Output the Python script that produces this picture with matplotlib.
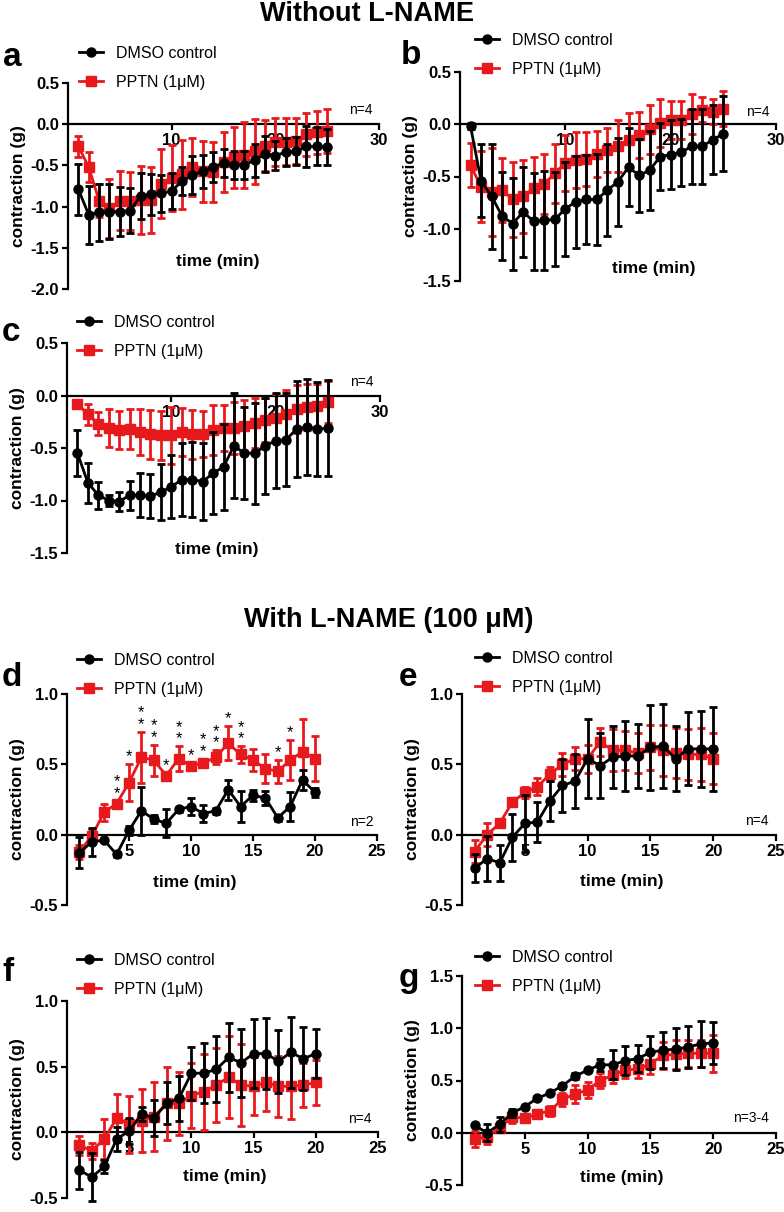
import matplotlib
matplotlib.use("Agg")
import matplotlib.pyplot as plt

# figure size in pixels (dpi 100)
W, H = 784, 1212

plt.rcParams["font.family"] = ["Liberation Sans", "DejaVu Sans"]

# ---------------- data ----------------
t25 = list(range(1, 26))
t20 = list(range(1, 21))

# panel a
dmso_a = [-0.79, -1.10, -1.07, -1.06, -1.06, -1.05, -0.87, -0.85, -0.84, -0.81, -0.69, -0.62, -0.57,
          -0.52, -0.47, -0.49, -0.49, -0.44, -0.36, -0.38, -0.34, -0.33, -0.27, -0.27, -0.28]
dmso_a_err = [0.31, 0.35, 0.35, 0.33, 0.30, 0.27, 0.28, 0.25, 0.22, 0.22, 0.17, 0.23, 0.20,
              0.18, 0.17, 0.17, 0.17, 0.20, 0.22, 0.18, 0.17, 0.17, 0.25, 0.23, 0.22]
pptn_a = [-0.27, -0.52, -0.93, -1.02, -0.93, -0.93, -0.92, -0.92, -0.72, -0.65, -0.61, -0.52, -0.57,
          -0.58, -0.46, -0.40, -0.37, -0.33, -0.26, -0.22, -0.21, -0.20, -0.12, -0.10, -0.08]
pptn_a_err = [0.13, 0.18, 0.20, 0.36, 0.36, 0.35, 0.41, 0.40, 0.42, 0.40, 0.42, 0.35, 0.37,
              0.36, 0.36, 0.37, 0.40, 0.39, 0.31, 0.29, 0.28, 0.28, 0.26, 0.26, 0.27]

# panel b
dmso_b = [-0.02, -0.54, -0.69, -0.88, -0.95, -0.84, -0.93, -0.92, -0.91, -0.81, -0.74, -0.72, -0.72,
          -0.63, -0.55, -0.41, -0.49, -0.44, -0.31, -0.29, -0.27, -0.21, -0.21, -0.15, -0.09]
dmso_b_err = [0.03, 0.35, 0.50, 0.42, 0.44, 0.43, 0.46, 0.47, 0.45, 0.45, 0.44, 0.43, 0.44,
              0.44, 0.42, 0.37, 0.35, 0.38, 0.32, 0.33, 0.32, 0.36, 0.36, 0.33, 0.36]
pptn_b = [-0.39, -0.60, -0.65, -0.63, -0.72, -0.69, -0.61, -0.57, -0.47, -0.37, -0.34, -0.33, -0.28,
          -0.25, -0.21, -0.15, -0.10, -0.05, 0.01, 0.04, 0.04, 0.10, 0.14, 0.12, 0.15]
pptn_b_err = [0.21, 0.34, 0.42, 0.31, 0.36, 0.35, 0.30, 0.29, 0.28, 0.27, 0.27, 0.26, 0.22,
              0.21, 0.25, 0.26, 0.22, 0.23, 0.23, 0.18, 0.18, 0.19, 0.12, 0.12, 0.17]

# panel c
dmso_c = [-0.55, -0.83, -0.95, -1.00, -1.01, -0.95, -0.95, -0.96, -0.92, -0.87, -0.80, -0.80, -0.82,
          -0.74, -0.68, -0.48, -0.55, -0.55, -0.48, -0.43, -0.42, -0.32, -0.30, -0.32, -0.31]
dmso_c_err = [0.22, 0.19, 0.13, 0.05, 0.09, 0.14, 0.21, 0.21, 0.27, 0.30, 0.35, 0.36, 0.37,
              0.39, 0.41, 0.50, 0.44, 0.48, 0.46, 0.45, 0.44, 0.46, 0.46, 0.45, 0.46]
pptn_c = [-0.08, -0.18, -0.27, -0.31, -0.33, -0.32, -0.35, -0.37, -0.38, -0.38, -0.35, -0.37, -0.37,
          -0.33, -0.31, -0.31, -0.29, -0.26, -0.23, -0.21, -0.18, -0.13, -0.11, -0.10, -0.06]
pptn_c_err = [0.04, 0.10, 0.11, 0.18, 0.18, 0.19, 0.22, 0.23, 0.23, 0.27, 0.23, 0.23, 0.22,
              0.24, 0.22, 0.25, 0.25, 0.24, 0.21, 0.22, 0.23, 0.23, 0.22, 0.21, 0.20]

# panel d
dmso_d = [-0.13, -0.05, -0.04, -0.14, 0.03, 0.17, 0.11, 0.08, 0.18, 0.20, 0.15, 0.17, 0.32,
          0.20, 0.28, 0.26, 0.12, 0.20, 0.39, 0.30]
dmso_d_err = [0.11, 0.10, 0.0, 0.02, 0.03, 0.17, 0.03, 0.10, 0.02, 0.06, 0.06, 0.02, 0.07,
              0.11, 0.04, 0.05, 0.02, 0.10, 0.07, 0.03]
pptn_d = [-0.12, -0.01, 0.16, 0.22, 0.37, 0.55, 0.53, 0.42, 0.54, 0.49, 0.51, 0.55, 0.65,
          0.57, 0.53, 0.47, 0.45, 0.53, 0.59, 0.54]
pptn_d_err = [0.05, 0.05, 0.06, 0.02, 0.13, 0.18, 0.11, 0.02, 0.09, 0.02, 0.03, 0.05, 0.12,
              0.06, 0.08, 0.10, 0.08, 0.14, 0.23, 0.16]
star_t = [4, 5, 6, 7, 8, 9, 10, 11, 12, 13, 14, 17, 18]
star_txt = ["**", "*", "**", "**", "*", "**", "*", "**", "**", "*", "**", "*", "*"]

# panel e
dmso_e = [-0.24, -0.17, -0.20, -0.02, 0.08, 0.09, 0.24, 0.35, 0.38, 0.54, 0.49, 0.55, 0.56,
          0.56, 0.62, 0.63, 0.54, 0.61, 0.61, 0.61]
dmso_e_err = [0.10, 0.16, 0.13, 0.17, 0.20, 0.14, 0.14, 0.19, 0.19, 0.28, 0.23, 0.22, 0.25,
              0.23, 0.30, 0.30, 0.23, 0.26, 0.27, 0.30]
pptn_e = [-0.12, 0.00, 0.08, 0.23, 0.30, 0.34, 0.43, 0.50, 0.54, 0.54, 0.66, 0.60, 0.60,
          0.58, 0.62, 0.60, 0.58, 0.57, 0.57, 0.54]
pptn_e_err = [0.08, 0.08, 0.02, 0.02, 0.04, 0.06, 0.05, 0.08, 0.08, 0.10, 0.10, 0.15, 0.14,
              0.14, 0.16, 0.18, 0.18, 0.18, 0.19, 0.18]

# panel f
dmso_f = [-0.29, -0.34, -0.26, -0.05, 0.01, 0.14, 0.11, 0.22, 0.26, 0.45, 0.45, 0.48, 0.57,
          0.53, 0.60, 0.60, 0.54, 0.61, 0.56, 0.60]
dmso_f_err = [0.14, 0.18, 0.05, 0.09, 0.10, 0.05, 0.14, 0.16, 0.17, 0.20, 0.23, 0.25, 0.26,
              0.26, 0.26, 0.27, 0.24, 0.27, 0.24, 0.19]
pptn_f = [-0.10, -0.14, -0.05, 0.11, 0.06, 0.09, 0.12, 0.22, 0.22, 0.28, 0.31, 0.36, 0.42,
          0.36, 0.35, 0.38, 0.35, 0.35, 0.36, 0.38]
pptn_f_err = [0.07, 0.06, 0.15, 0.18, 0.22, 0.24, 0.26, 0.28, 0.24, 0.25, 0.29, 0.28, 0.31,
              0.31, 0.22, 0.22, 0.23, 0.25, 0.17, 0.17]

# panel g
dmso_g = [0.07, 0.00, 0.08, 0.19, 0.25, 0.33, 0.38, 0.45, 0.54, 0.60, 0.65, 0.65, 0.69,
          0.71, 0.77, 0.79, 0.80, 0.82, 0.85, 0.86]
dmso_g_err = [0.01, 0.08, 0.07, 0.04, 0.01, 0.01, 0.01, 0.01, 0.03, 0.01, 0.06, 0.14, 0.14,
              0.13, 0.16, 0.17, 0.20, 0.20, 0.22, 0.20]
pptn_g = [-0.06, -0.04, 0.05, 0.15, 0.14, 0.18, 0.21, 0.32, 0.37, 0.41, 0.50, 0.55, 0.60,
          0.61, 0.66, 0.74, 0.75, 0.76, 0.76, 0.76]
pptn_g_err = [0.08, 0.07, 0.02, 0.06, 0.04, 0.02, 0.05, 0.06, 0.09, 0.08, 0.07, 0.07, 0.08,
              0.09, 0.10, 0.13, 0.14, 0.13, 0.13, 0.18]

labels = ["DMSO control", "PPTN (1\u03bcM)"]

# ---------------- layout (pixels) ----------------
# box = (left, top, right, bottom) of the axes, npos / xl in data units,
# let = panel letter baseline, leg = legend upper-left corner
panels = [
    dict(name="a", t=t25, d=(dmso_a, dmso_a_err, pptn_a, pptn_a_err), box=(68, 83, 379, 289),
         ylim=(-2.0, 0.5), xmax=30, xt=[10, 20, 30], n="n=4", npos=(29.4, 0.17),
         xl=(14.4, -1.67), let=(3, 66), leg=(79, 46)),
    dict(name="b", t=t25, d=(dmso_b, dmso_b_err, pptn_b, pptn_b_err), box=(460, 72, 776, 281),
         ylim=(-1.5, 0.5), xmax=30, xt=[10, 20, 30], n="n=4", npos=(29.4, 0.12),
         xl=(18.4, -1.38), let=(401, 64), leg=(475, 33)),
    dict(name="c", t=t25, d=(dmso_c, dmso_c_err, pptn_c, pptn_c_err), box=(67, 343, 380, 553),
         ylim=(-1.5, 0.5), xmax=30, xt=[10, 20, 30], n="n=4", npos=(29.4, 0.13),
         xl=(14.4, -1.47), let=(2, 341), leg=(77, 315)),
    dict(name="d", t=t20, d=(dmso_d, dmso_d_err, pptn_d, pptn_d_err), box=(67, 694, 377, 905),
         ylim=(-0.5, 1.0), xmax=25, xt=[5, 10, 15, 20, 25], n="n=2", npos=(24.7, 0.09),
         xl=(10.3, -0.34), let=(2, 686), leg=(77, 653)),
    dict(name="e", t=t20, d=(dmso_e, dmso_e_err, pptn_e, pptn_e_err), box=(462, 694, 776, 905),
         ylim=(-0.5, 1.0), xmax=25, xt=[5, 10, 15, 20, 25], n="n=4", npos=(24.4, 0.10),
         xl=(12.7, -0.33), let=(399, 686), leg=(475, 651)),
    dict(name="f", t=t20, d=(dmso_f, dmso_f_err, pptn_f, pptn_f_err), box=(67, 1001, 378, 1198),
         ylim=(-0.5, 1.0), xmax=25, xt=[5, 10, 15, 20, 25], n="n=4", npos=(24.5, 0.10),
         xl=(12.7, -0.34), let=(2, 981), leg=(77, 953)),
    dict(name="g", t=t20, d=(dmso_g, dmso_g_err, pptn_g, pptn_g_err), box=(462, 976, 776, 1185),
         ylim=(-0.5, 1.5), xmax=25, xt=[5, 10, 15, 20, 25], n="n=3-4", npos=(24.4, 0.14),
         xl=(12.7, -0.43), let=(399, 987), leg=(475, 950)),
]

RED = "#e8191c"
LW = 2.0

fig = plt.figure(figsize=(W / 100, H / 100), dpi=100)


def fx(px):
    return px / W


def fy(py):
    return 1 - py / H


for p in panels:
    l, t, r, b = p["box"]
    ax = fig.add_axes([fx(l), fy(b), (r - l) / W, (b - t) / H])
    dm, dm_err, pp, pp_err = p["d"]

    red = ax.errorbar(p["t"], pp, yerr=pp_err, color=RED, marker="s", ms=6.5, lw=LW,
                      elinewidth=LW, capsize=3.2, capthick=LW, zorder=3, clip_on=False)
    blk = ax.errorbar(p["t"], dm, yerr=dm_err, color="black", marker="o", ms=6.5, lw=LW,
                      elinewidth=LW, capsize=3.2, capthick=LW, zorder=4, clip_on=False)

    ax.set_xlim(0, p["xmax"])
    ax.set_ylim(*p["ylim"])
    lo, hi = p["ylim"]
    ax.set_yticks([lo + 0.5 * i for i in range(int(round((hi - lo) / 0.5)) + 1)])
    ax.set_yticklabels(["%.1f" % v for v in ax.get_yticks()])
    ax.set_xticks(p["xt"])

    for s in ["top", "right"]:
        ax.spines[s].set_visible(False)
    ax.spines["bottom"].set_position(("data", 0))
    ax.spines["left"].set_linewidth(1.6)
    ax.spines["bottom"].set_linewidth(1.6)
    ax.set_axisbelow(True)
    ax.tick_params(axis="both", width=1.6, length=4.5, labelsize=12, pad=2)
    for lab in ax.get_xticklabels() + ax.get_yticklabels():
        lab.set_fontweight("bold")

    ax.set_ylabel("contraction (g)", fontsize=12.5, fontweight="bold", labelpad=3)
    ax.text(p["xl"][0], p["xl"][1], "time (min)", fontsize=12.5, fontweight="bold",
            ha="center", va="center")
    ax.text(p["npos"][0], p["npos"][1], p["n"], fontsize=10, ha="right", va="center")

    if p["name"] == "d":
        for ts, st in zip(star_t, star_txt):
            i = ts - 1
            top = pp[i] + pp_err[i]
            ax.annotate("\n".join(st), (ts, top), xytext=(0, 0), textcoords="offset points",
                        ha="center", va="bottom", fontsize=12, linespacing=0.7)

    fig.legend([blk[0], red[0]], labels, loc="upper left",
               bbox_to_anchor=(fx(p["leg"][0]), fy(p["leg"][1])),
               frameon=False, fontsize=11.5, handlelength=1.5, handletextpad=0.8,
               labelspacing=0.85, borderpad=0, borderaxespad=0)

    fig.text(fx(p["let"][0]), fy(p["let"][1]), p["name"], fontsize=24, fontweight="bold",
             ha="left", va="baseline")

fig.text(fx(367), fy(21), "Without L-NAME", fontsize=19.5, fontweight="bold",
         ha="center", va="baseline")
fig.text(fx(389), fy(627), "With L-NAME (100 \u03bcM)", fontsize=19.5, fontweight="bold",
         ha="center", va="baseline")

fig.savefig("out.png", dpi=100)
